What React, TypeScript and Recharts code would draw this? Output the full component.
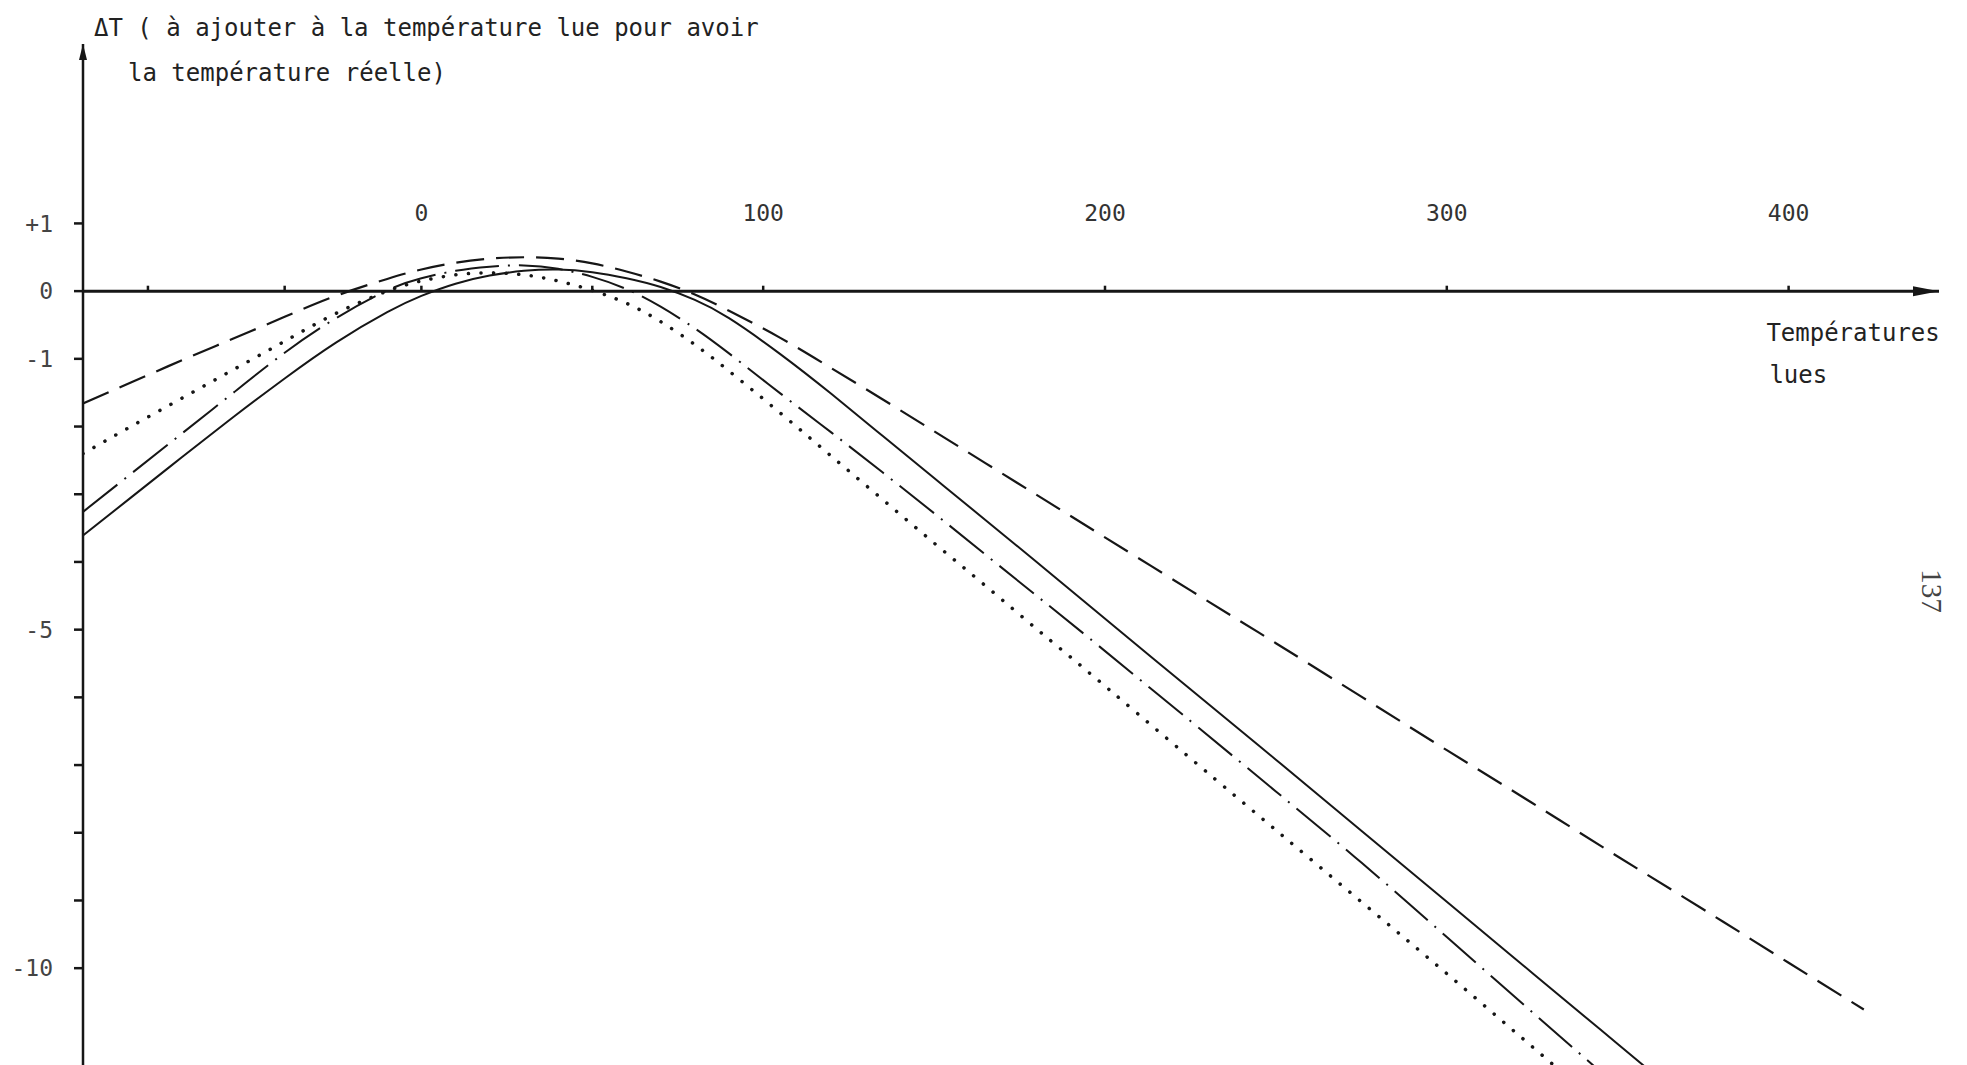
import { LineChart, Line, XAxis, YAxis, ReferenceLine, ReferenceDot } from 'recharts';

// #region data (temperature lue -> correction ΔT)
const temps = [-99, -85, -70, -55, -40, -25, -10, 0, 10, 20, 30, 40, 50, 60, 70, 80, 90, 105, 120, 135, 150, 165, 180, 195, 225, 250, 275, 300, 325, 350, 375, 400, 422];
const solid = [-3.61, -3.05, -2.45, -1.86, -1.29, -0.76, -0.31, -0.07, 0.11, 0.23, 0.3, 0.32, 0.28, 0.19, 0.06, -0.13, -0.4, -0.93, -1.52, -2.14, -2.76, -3.38, -4.0, -4.63, -5.88, -6.92, -7.97, -9.02, -10.07, -11.12, -12.17, null, null];
const dashed = [-1.66, -1.35, -1.02, -0.7, -0.38, -0.07, 0.18, 0.32, 0.42, 0.48, 0.5, 0.48, 0.41, 0.29, 0.14, -0.05, -0.29, -0.69, -1.14, -1.6, -2.07, -2.54, -3.01, -3.48, -4.42, -5.2, -5.99, -6.78, -7.56, -8.35, -9.13, -9.92, -10.61];
const dotted = [-2.4, -2.0, -1.58, -1.16, -0.74, -0.33, 0.0, 0.15, 0.24, 0.27, 0.24, 0.15, 0.01, -0.18, -0.45, -0.79, -1.18, -1.8, -2.44, -3.08, -3.72, -4.35, -4.99, -5.62, -6.9, -7.96, -9.02, -10.08, -11.16, -12.24, null, null, null];
const dashDot = [-3.26, -2.7, -2.1, -1.5, -0.91, -0.4, 0.01, 0.19, 0.3, 0.36, 0.38, 0.33, 0.21, 0.03, -0.23, -0.55, -0.92, -1.51, -2.09, -2.68, -3.28, -3.89, -4.5, -5.11, -6.35, -7.39, -8.44, -9.54, -10.65, -11.75, null, null, null];

const xTicks = [-80, -40, 0, 50, 100, 200, 300, 400];
const xTickLabels = ['0', '100', '200', '300', '400'];
const yTicks = [1, 0, -1, -2, -3, -4, -5, -6, -7, -8, -9, -10];
const yTickLabels: Record<string, string> = { '1': '+1', '0': '0', '-1': '-1', '-5': '-5', '-10': '-10' };
// #endregion

const rows = temps.map((t, i) => ({ t, solid: solid[i], dashed: dashed[i], dotted: dotted[i], dashDot: dashDot[i] }));

const MONO = '"DejaVu Sans Mono", "Liberation Mono", monospace';
const INK = '#161616';

export default function App() {
  return (
    <div style={{ position: 'absolute', left: 0, top: 0, width: 1967, height: 1065, background: '#fff', overflow: 'hidden' }}>
      <LineChart width={1967} height={1065} data={rows} margin={{ top: 44, right: 28, bottom: 0, left: 0 }}>
        <XAxis type="number" dataKey="t" domain={[-99, 444]} hide allowDataOverflow />
        <YAxis
          type="number"
          domain={[-11.43, 3.65]}
          allowDataOverflow
          ticks={yTicks}
          interval={0}
          width={83}
          tickSize={9}
          tickMargin={21}
          axisLine={{ stroke: INK, strokeWidth: 2.5 }}
          tickLine={{ stroke: INK, strokeWidth: 2.5 }}
          tick={{ fontFamily: MONO, fontSize: 23, fill: '#444' }}
          tickFormatter={(v) => yTickLabels[String(v)] ?? ''}
        />

        {/* horizontal axis drawn at ΔT = 0 */}
        <ReferenceLine y={0} stroke={INK} strokeWidth={3} />
        {xTicks.map((t) => (
          <ReferenceLine key={t} segment={[{ x: t, y: 0 }, { x: t, y: 0.08 }]} stroke={INK} strokeWidth={2.5} />
        ))}
        {xTickLabels.map((lbl) => (
          <ReferenceDot
            key={lbl}
            x={Number(lbl)}
            y={1.15}
            r={0}
            shape={(p: any) => (
              <text x={p.cx} y={p.cy} textAnchor="middle" dominantBaseline="central" fontFamily={MONO} fontSize={23} fill="#333">
                {lbl}
              </text>
            )}
          />
        ))}
        <ReferenceDot
          x={444}
          y={0}
          r={0}
          shape={(p: any) => <polygon points={`${p.cx},${p.cy} ${p.cx - 26},${p.cy - 5} ${p.cx - 26},${p.cy + 5}`} fill={INK} />}
        />
        <ReferenceDot
          x={393.5}
          y={-0.6}
          r={0}
          shape={(p: any) => (
            <text fontFamily={MONO} fontSize={24} fill="#222">
              <tspan x={p.cx} y={p.cy + 9}>Températures</tspan>
              <tspan x={p.cx + 3} y={p.cy + 51}>lues</tspan>
            </text>
          )}
        />

        {/* vertical axis arrow and its title */}
        <ReferenceDot
          x={-99}
          y={3.65}
          r={0}
          shape={(p: any) => (
            <g>
              <polygon points={`${p.cx},${p.cy} ${p.cx - 4},${p.cy + 16} ${p.cx + 4},${p.cy + 16}`} fill={INK} />
              <text fontFamily={MONO} fontSize={24} fill="#222">
                <tspan x={p.cx + 11} y={p.cy - 8}>ΔT ( à ajouter à la température lue pour avoir</tspan>
                <tspan x={p.cx + 45} y={p.cy + 37}>la température réelle)</tspan>
              </text>
            </g>
          )}
        />

        {/* page number */}
        <ReferenceDot
          x={442}
          y={-4.43}
          r={0}
          shape={(p: any) => (
            <text
              x={p.cx}
              y={p.cy}
              textAnchor="middle"
              dominantBaseline="central"
              transform={`rotate(90 ${p.cx} ${p.cy})`}
              fontFamily='"Liberation Serif", serif'
              fontSize={29}
              fill="#444"
            >
              137
            </text>
          )}
        />

        <Line dataKey="solid" type="natural" stroke={INK} strokeWidth={2} dot={false} activeDot={false} isAnimationActive={false} />
        <Line dataKey="dashed" type="natural" stroke={INK} strokeWidth={2.2} strokeDasharray="28 12" dot={false} activeDot={false} isAnimationActive={false} />
        <Line dataKey="dotted" type="natural" stroke={INK} strokeWidth={3.5} strokeDasharray="0.1 12.5" strokeLinecap="round" dot={false} activeDot={false} isAnimationActive={false} />
        <Line dataKey="dashDot" type="natural" stroke={INK} strokeWidth={2} strokeDasharray="44 9 2 9" dot={false} activeDot={false} isAnimationActive={false} />
      </LineChart>
    </div>
  );
}
